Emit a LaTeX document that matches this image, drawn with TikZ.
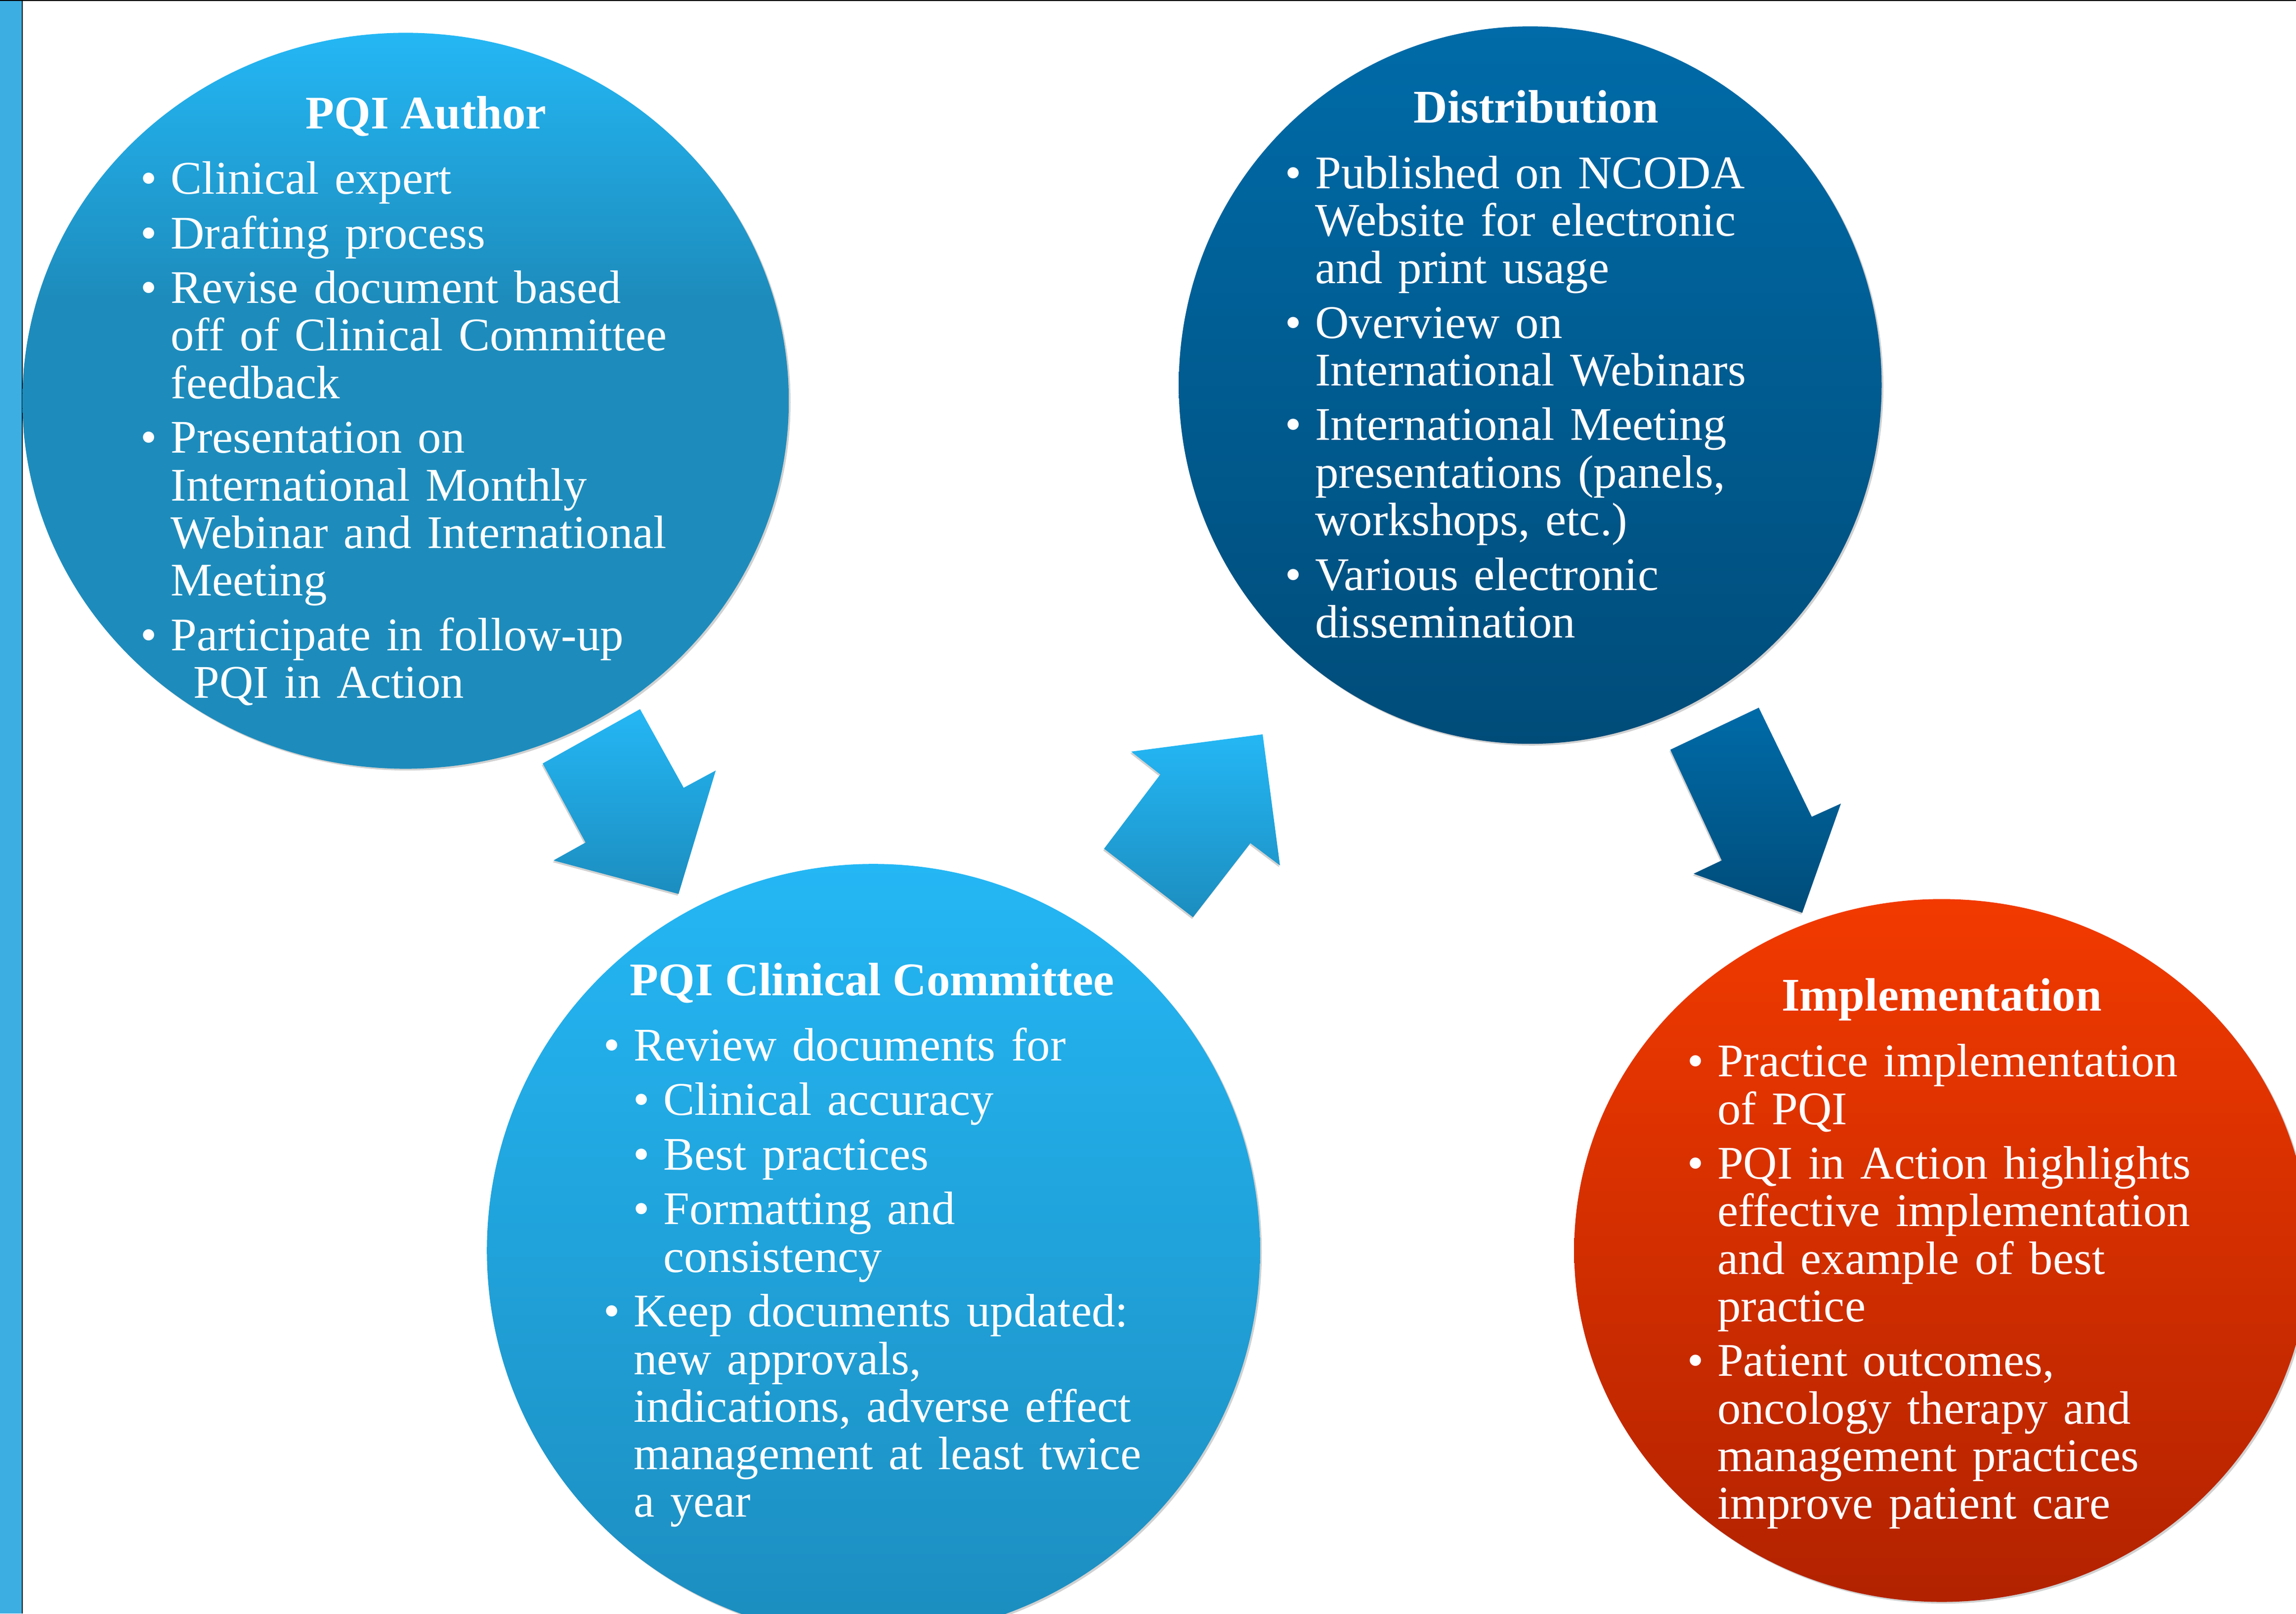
\documentclass[tikz,border=0pt]{standalone}
\usepackage{fontspec}
\setmainfont{Liberation Serif}
\usetikzlibrary{shapes.geometric,shadows}

\definecolor{barblue}{HTML}{3DAEE2}
\definecolor{skytop}{HTML}{24B7F5}
\definecolor{skybot}{HTML}{1C8DBF}
\definecolor{authmid}{HTML}{1D8CBC}
\definecolor{navytop}{HTML}{006BA8}
\definecolor{navybot}{HTML}{004C79}
\definecolor{redtop}{HTML}{F23A00}
\definecolor{redbot}{HTML}{B22200}

\pgfdeclareverticalshading{authshade}{100bp}{color(0bp)=(authmid); color(57bp)=(authmid); color(75bp)=(skytop); color(100bp)=(skytop)}

% list items: bullet, hanging indent, gap after
\newcommand\nl{\hfil\break}
\newcommand\bulone[1]{\hangindent=20.5pt\hangafter=1\noindent\makebox[20.5pt][l]{\textbullet}#1\par\addvspace{4.8pt}}
\newcommand\bultwo[1]{\hangindent=40.8pt\hangafter=1\noindent\hspace*{20.3pt}\makebox[20.5pt][l]{\textbullet}#1\par\addvspace{4.8pt}}

\begin{document}
\begin{tikzpicture}[x=1pt, y=1pt,
  bubble/.style={ellipse, inner sep=0pt, drop shadow={shadow xshift=1.2pt, shadow yshift=-1.2pt, opacity=.3, fill=black!60}},
  arrowshadow/.style={drop shadow={shadow xshift=-0.6pt, shadow yshift=-1.2pt, opacity=.3, fill=black!60}},
  ttl/.style={anchor=base, inner sep=0pt, text=white, font=\bfseries\fontsize{32}{32.5}\selectfont},
  lst/.style={anchor=base west, inner sep=0pt, text=white, text width=420pt, font=\fontsize{32}{32.5}\selectfont}]

\useasboundingbox (0,0) rectangle (1568,-1102);
\clip (0,0) rectangle (1568,-1102);

% frame
\fill[barblue] (0,0) rectangle (15.2,-1102);
\draw[line width=0.7pt] (15.2,0) -- (15.2,-1102);
\draw[line width=0.7pt] (0,-0.35) -- (1568,-0.35);

% circles
\node[bubble, shade, shading=authshade, minimum width=523.4pt, minimum height=502.6pt] (author) at (277,-273.7) {};
\node[bubble, top color=navytop, bottom color=navybot, minimum width=480pt, minimum height=490pt] (distrib) at (1045,-263) {};
\node[bubble, top color=skytop, bottom color=skybot, minimum width=528pt, minimum height=528pt] (committee) at (596.5,-854) {};
\node[bubble, top color=redtop, bottom color=redbot, minimum width=502pt, minimum height=480pt] (implement) at (1326,-854) {};

% arrows
\shade[arrowshadow, top color=skytop, bottom color=skybot]
  (437.1,-484.3) -- (466.9,-538.0) -- (488.8,-526.2) -- (463.4,-610.5)
  -- (378.0,-587.6) -- (399.9,-575.4) -- (370.6,-521.4) -- cycle;
\shade[arrowshadow, top color=skytop, bottom color=skybot]
  (814.7,-626.4) -- (754.0,-579.6) -- (792.4,-528.9) -- (772.5,-513.3)
  -- (862.3,-501.5) -- (874.1,-591.0) -- (853.9,-575.8) -- cycle;
\shade[arrowshadow, top color=navytop, bottom color=navybot]
  (1201.1,-483.3) -- (1237.3,-557.8) -- (1257.2,-548.8) -- (1230.8,-623.4)
  -- (1156.6,-596.7) -- (1175.8,-587.6) -- (1140.7,-512.0) -- cycle;

% texts
\node[ttl] (authT) at (291,-88) {PQI Author};
\node[lst] (authL) at (95.9,-132.5) {%
\bulone{Clinical expert}%
\bulone{Drafting process}%
\bulone{Revise document based\nl off of Clinical Committee\nl feedback}%
\bulone{Presentation on\nl International Monthly\nl Webinar and International\nl Meeting}%
\bulone{Participate in follow-up\nl\hspace*{15.5pt}PQI in Action}};

\node[ttl] (distT) at (1049,-84) {Distribution};
\node[lst] (distL) at (877.5,-128.6) {%
\bulone{Published on NCODA\nl Website for electronic\nl and print usage}%
\bulone{Overview on\nl International Webinars}%
\bulone{International Meeting\nl presentations (panels,\nl workshops, etc.)}%
\bulone{Various electronic\nl dissemination}};

\node[ttl] (commT) at (595.5,-680) {PQI Clinical Committee};
\node[lst] (commL) at (412.1,-724.4) {%
\bulone{Review documents for}%
\bultwo{Clinical accuracy}%
\bultwo{Best practices}%
\bultwo{Formatting and\nl consistency}%
\bulone{Keep documents updated:\nl new approvals,\nl indications, adverse effect\nl management at least twice\nl a year}};

\node[ttl] (implT) at (1326,-690.5) {Implementation};
\node[lst] (implL) at (1152.1,-735.3) {%
\bulone{Practice implementation\nl of PQI}%
\bulone{PQI in Action highlights\nl effective implementation\nl and example of best\nl practice}%
\bulone{Patient outcomes,\nl oncology therapy and\nl management practices\nl improve patient care}};

\end{tikzpicture}
\end{document}
